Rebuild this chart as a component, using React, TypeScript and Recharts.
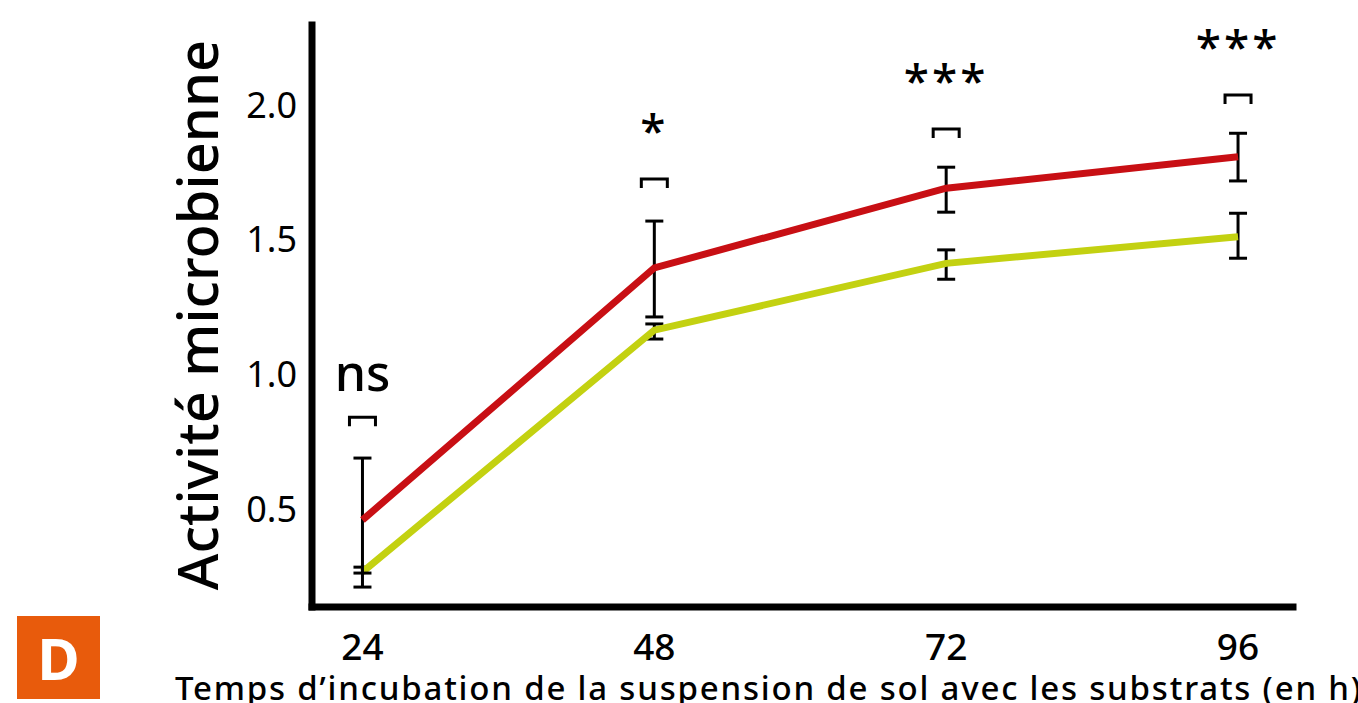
import { LineChart, Line, XAxis, YAxis, ErrorBar } from "recharts";

const hours = [24, 48, 72, 96];
const redValues = [0.459, 1.395, 1.691, 1.808];
const redErrors = [
  [0.197, 0.23],
  [0.182, 0.174],
  [0.089, 0.078],
  [0.09, 0.087],
];
const greenValues = [0.266, 1.164, 1.412, 1.511];
const greenErrors = [
  [0.056, 0.018],
  [0.033, 0.023],
  [0.059, 0.05],
  [0.08, 0.087],
];
const bracketLevels = [0.841, 1.725, 1.911, 2.037];
const signifLabels = ["ns", "*", "***", "***"];
const yTicks = [0.5, 1.0, 1.5, 2.0];

const data = hours.map((h, i) => ({
  hour: h,
  red: redValues[i],
  redErr: redErrors[i],
  green: greenValues[i],
  greenErr: greenErrors[i],
  bracket: bracketLevels[i],
  label: signifLabels[i],
}));

const FONT = "'Noto Sans', sans-serif";

const BracketDot = (props: any) => {
  const { cx, cy, payload } = props;
  if (cx == null || cy == null) return null;
  const isNs = payload.label === "ns";
  return (
    <g key={`br-${payload.hour}`}>
      <path
        d={`M${cx - 13},${cy + 9} L${cx - 13},${cy} L${cx + 13},${cy} L${cx + 13},${cy + 9}`}
        fill='none'
        stroke='#000'
        strokeWidth={3}
      />
      <text
        x={cx}
        y={isNs ? cy - 26 : cy - 32}
        textAnchor='middle'
        fontFamily={FONT}
        fontSize={isNs ? 50 : 46}
        fontWeight={500}
        letterSpacing={isNs ? 0 : 3}
        fill='#000'
      >
        {payload.label}
      </text>
    </g>
  );
};

const YTitle = () => (
  <text
    x={218}
    y={315}
    transform='rotate(-90, 218, 315)'
    textAnchor='middle'
    fontFamily={FONT}
    fontSize={56}
    fontWeight={500}
    fill='#000'
  >
    Activité microbienne
  </text>
);

const XTitle = () => (
  <text
    x={175}
    y={700}
    textAnchor='start'
    fontFamily={FONT}
    fontSize={33}
    fontWeight={500}
    letterSpacing={1.8}
    fill='#000'
  >
    Temps d’incubation de la suspension de sol avec les substrats (en h)
  </text>
);

export default function App() {
  return (
    <div style={{ position: "absolute", left: 0, top: 0, width: 1358, height: 703, background: "#fff", overflow: "hidden" }}>
      <LineChart
        width={1358}
        height={703}
        data={data}
        margin={{ top: 25, right: 65, bottom: 0, left: 0 }}
      >
        <XAxis
          dataKey='hour'
          type='number'
          domain={[19.85, 100.52]}
          ticks={hours}
          height={96}
          tickSize={0}
          tickMargin={27}
          axisLine={{ stroke: "#000", strokeWidth: 7, strokeLinecap: "square" }}
          tick={{ fontSize: 37, fontWeight: 500, fill: "#000", fontFamily: FONT }}
          label={<XTitle />}
        />
        <YAxis
          type='number'
          domain={[0.136, 2.297]}
          ticks={yTicks}
          tickFormatter={(v: number) => v.toFixed(1)}
          width={312}
          tickSize={0}
          tickMargin={15}
          axisLine={{ stroke: "#000", strokeWidth: 7, strokeLinecap: "square" }}
          tick={{ fontSize: 36, fontWeight: 400, fill: "#000", fontFamily: FONT }}
          label={<YTitle />}
        />
        <Line
          dataKey='green'
          stroke='#C3D111'
          strokeWidth={7}
          dot={false}
          activeDot={false}
          isAnimationActive={false}
        >
          <ErrorBar dataKey='greenErr' width={9} strokeWidth={3} stroke='#000' direction='y' />
        </Line>
        <Line
          dataKey='red'
          stroke='#C80F14'
          strokeWidth={7}
          dot={false}
          activeDot={false}
          isAnimationActive={false}
        >
          <ErrorBar dataKey='redErr' width={9} strokeWidth={3} stroke='#000' direction='y' />
        </Line>
        <Line
          dataKey='bracket'
          stroke='none'
          dot={<BracketDot />}
          activeDot={false}
          isAnimationActive={false}
        />
      </LineChart>
      <div
        style={{
          position: "absolute",
          left: 17,
          top: 616,
          width: 83,
          height: 83,
          background: "#E85B0C",
          color: "#fff",
          fontFamily: FONT,
          fontWeight: 700,
          fontSize: 58,
          display: "flex",
          alignItems: "center",
          justifyContent: "center",
          lineHeight: 1,
        }}
      >
        D
      </div>
    </div>
  );
}
